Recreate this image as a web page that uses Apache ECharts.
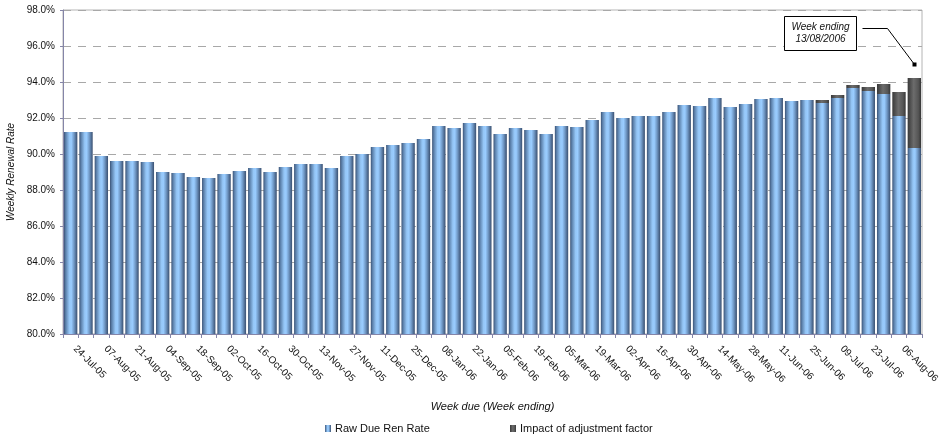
<!DOCTYPE html>
<html>
<head>
<meta charset="utf-8">
<script src="https://cdn.jsdelivr.net/npm/echarts@6/dist/echarts.min.js"></script>
<style>
  html, body { margin: 0; padding: 0; background: #ffffff; }
  #chart { width: 943px; height: 437px; }
</style>
</head>
<body>
<div id="chart"></div>
<script>
// Week-ending dates (one bar per week)
const weeks = [
  '24-Jul-05', '31-Jul-05', '07-Aug-05', '14-Aug-05', '21-Aug-05', '28-Aug-05',
  '04-Sep-05', '11-Sep-05', '18-Sep-05', '25-Sep-05', '02-Oct-05', '09-Oct-05',
  '16-Oct-05', '23-Oct-05', '30-Oct-05', '06-Nov-05', '13-Nov-05', '20-Nov-05',
  '27-Nov-05', '04-Dec-05', '11-Dec-05', '18-Dec-05', '25-Dec-05', '01-Jan-06',
  '08-Jan-06', '15-Jan-06', '22-Jan-06', '29-Jan-06', '05-Feb-06', '12-Feb-06',
  '19-Feb-06', '26-Feb-06', '05-Mar-06', '12-Mar-06', '19-Mar-06', '26-Mar-06',
  '02-Apr-06', '09-Apr-06', '16-Apr-06', '23-Apr-06', '30-Apr-06', '07-May-06',
  '14-May-06', '21-May-06', '28-May-06', '04-Jun-06', '11-Jun-06', '18-Jun-06',
  '25-Jun-06', '02-Jul-06', '09-Jul-06', '16-Jul-06', '23-Jul-06', '30-Jul-06',
  '06-Aug-06', '13-Aug-06'
];

// Raw due renewal rate (%)
const rawRate = [
  91.22, 91.22, 89.89, 89.61, 89.61, 89.56, 89.00, 88.94, 88.72, 88.67,
  88.89, 89.06, 89.22, 89.00, 89.28, 89.44, 89.44, 89.22, 89.89, 90.00,
  90.39, 90.50, 90.61, 90.83, 91.56, 91.44, 91.72, 91.56, 91.11, 91.44,
  91.33, 91.11, 91.56, 91.50, 91.89, 92.33, 92.00, 92.11, 92.11, 92.33,
  92.72, 92.67, 93.11, 92.61, 92.78, 93.06, 93.11, 92.94, 93.00, 92.83,
  93.11, 93.67, 93.50, 93.33, 92.11, 90.33
];

// Extra points added by the adjustment factor (%), only for recent weeks
const adjustmentImpact = [
  null, null, null, null, null, null, null, null, null, null,
  null, null, null, null, null, null, null, null, null, null,
  null, null, null, null, null, null, null, null, null, null,
  null, null, null, null, null, null, null, null, null, null,
  null, null, null, null, null, null, null, null, null, 0.17,
  0.17, 0.16, 0.22, 0.56, 1.33, 3.89
];

// Value axis range (%)
const yMin = 80;
const yMax = 98;
const yStep = 2;

const calloutText = 'Week ending\n13/08/2006';

const FONT = '"Liberation Sans", Arial, sans-serif';
const AXIS_COLOR = '#8585a8';

// Cylinder-like shading across each bar
const blueFill = new echarts.graphic.LinearGradient(0, 0, 1, 0, [
  { offset: 0, color: '#3a5275' },
  { offset: 0.12, color: '#5a7ea8' },
  { offset: 0.4, color: '#95c6f6' },
  { offset: 0.55, color: '#99ccff' },
  { offset: 0.75, color: '#7199c6' },
  { offset: 0.9, color: '#4f6c92' },
  { offset: 1, color: '#3a5070' }
]);
const greyFill = new echarts.graphic.LinearGradient(0, 0, 1, 0, [
  { offset: 0, color: '#383838' },
  { offset: 0.45, color: '#6c6c6c' },
  { offset: 0.8, color: '#555555' },
  { offset: 1, color: '#363636' }
]);

const chart = echarts.init(document.getElementById('chart'), null, { renderer: 'canvas' });

chart.setOption({
  animation: false,
  textStyle: { fontFamily: FONT },
  grid: {
    left: 63, right: 21, top: 10, bottom: 103,
    containLabel: false,
    outerBoundsMode: 'none',
    show: true, borderColor: '#b4b4b4', borderWidth: 1, backgroundColor: 'transparent'
  },
  legend: [
    {
      data: ['Raw Due Ren Rate'],
      left: 320, top: 418,
      itemWidth: 6, itemHeight: 7, itemGap: 0,
      textStyle: { fontFamily: FONT, fontSize: 11, color: '#111', padding: [0, 0, 0, -1] },
      icon: 'rect', selectedMode: false
    },
    {
      data: ['Impact of adjustment factor'],
      left: 505, top: 418,
      itemWidth: 6, itemHeight: 7, itemGap: 0,
      textStyle: { fontFamily: FONT, fontSize: 11, color: '#111', padding: [0, 0, 0, -1] },
      icon: 'rect', selectedMode: false
    }
  ],
  xAxis: {
    type: 'category',
    data: weeks,
    boundaryGap: true,
    name: 'Week due (Week ending)',
    nameLocation: 'middle',
    nameGap: 67,
    nameTextStyle: { fontFamily: FONT, fontSize: 11, fontStyle: 'italic', color: '#111' },
    axisLine: { show: true, lineStyle: { color: AXIS_COLOR, width: 1 } },
    axisTick: { show: true, interval: 0, length: 4, lineStyle: { color: AXIS_COLOR } },
    axisLabel: {
      interval: 1, rotate: -45, margin: 9,
      padding: [0, 0, 0, 6],
      fontFamily: FONT, fontSize: 10, color: '#111'
    },
    splitLine: { show: false }
  },
  yAxis: {
    type: 'value',
    min: yMin, max: yMax, interval: yStep,
    name: 'Weekly Renewal Rate',
    nameLocation: 'middle',
    nameGap: 44,
    nameRotate: 90,
    nameTextStyle: { fontFamily: FONT, fontSize: 10, fontStyle: 'italic', color: '#111' },
    axisLine: { show: true, lineStyle: { color: AXIS_COLOR, width: 1 } },
    axisTick: { show: true, length: 3, lineStyle: { color: AXIS_COLOR } },
    axisLabel: {
      margin: 8, fontFamily: FONT, fontSize: 10, color: '#111',
      formatter: v => v.toFixed(1) + '%'
    },
    splitLine: { show: true, lineStyle: { color: '#a8a8a8', type: [8, 7], width: 1 } }
  },
  series: [
    {
      name: 'Raw Due Ren Rate',
      type: 'bar',
      stack: 'rate',
      data: rawRate,
      barCategoryGap: '13%',
      itemStyle: { color: blueFill }
    },
    {
      name: 'Impact of adjustment factor',
      type: 'bar',
      stack: 'rate',
      data: adjustmentImpact,
      barCategoryGap: '13%',
      itemStyle: { color: greyFill }
    }
  ]
});

// Callout pointing at the final week's bar
const lastIdx = weeks.length - 1;
const lastTotal = rawRate[lastIdx] + (adjustmentImpact[lastIdx] || 0);
const barTop = chart.convertToPixel({ gridIndex: 0 }, [lastIdx, lastTotal]);
const tip = [Math.round(barTop[0]) + 0.5, Math.round(barTop[1] - 14) + 0.5];
const elbow = [tip[0] - 27, tip[1] - 36];
const lineStart = [elbow[0] - 25, elbow[1]];
const boxW = 72, boxH = 34;
const boxX = Math.round(lineStart[0] - 7 - boxW) + 0.5;
const boxY = Math.round(elbow[1] - 13) + 0.5;

chart.setOption({
  graphic: [
    {
      type: 'polyline',
      shape: { points: [lineStart, elbow, tip] },
      style: { stroke: '#000', lineWidth: 1, fill: null }
    },
    {
      type: 'rect',
      shape: { x: tip[0] - 2, y: tip[1] - 2, width: 4, height: 4 },
      style: { fill: '#000' }
    },
    {
      type: 'rect',
      shape: { x: boxX, y: boxY, width: boxW, height: boxH },
      style: { fill: '#fff', stroke: '#000', lineWidth: 1 }
    },
    {
      type: 'text',
      x: boxX + boxW / 2,
      y: boxY + boxH / 2,
      style: {
        text: calloutText,
        align: 'center', verticalAlign: 'middle',
        fontFamily: FONT, fontSize: 10, fontStyle: 'italic',
        lineHeight: 12, fill: '#111'
      }
    }
  ]
});
</script>
</body>
</html>
